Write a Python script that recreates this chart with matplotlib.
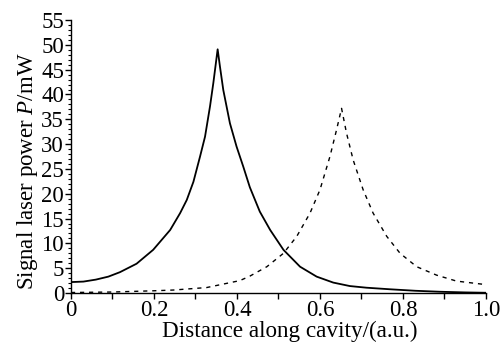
import matplotlib
matplotlib.use("Agg")
import matplotlib.pyplot as plt
from matplotlib.ticker import MultipleLocator

plt.rcParams['font.family'] = ['Liberation Serif', 'DejaVu Serif']
plt.rcParams['mathtext.fontset'] = 'custom'
plt.rcParams['mathtext.it'] = 'Liberation Serif:italic'
plt.rcParams['mathtext.rm'] = 'Liberation Serif'

# Solid curve
x_solid = [0.0, 0.03, 0.06, 0.09, 0.118, 0.158, 0.198, 0.239, 0.263, 0.279, 0.295, 0.311, 0.323, 0.335, 0.343, 0.3534,
           0.359, 0.367, 0.383, 0.399, 0.415, 0.431, 0.455, 0.480, 0.512, 0.552, 0.592, 0.632, 0.672, 0.712, 0.769,
           0.83, 0.89, 0.95, 1.0]
y_solid = [2.2, 2.3, 2.7, 3.3, 4.2, 5.9, 8.7, 12.7, 16.1, 18.75, 22.4, 27.5, 31.5, 37.6, 42.3, 49.1,
           45.6, 40.9, 34.2, 29.5, 25.5, 21.3, 16.4, 12.7, 8.7, 5.3, 3.3, 2.1, 1.4, 1.07, 0.75,
           0.45, 0.25, 0.12, 0.05]

# Dashed curve
x_dash = [0.0, 0.1, 0.2, 0.247, 0.327, 0.407, 0.431, 0.472, 0.512, 0.544, 0.576, 0.600, 0.624, 0.640, 0.652,
          0.664, 0.680, 0.704, 0.728, 0.761, 0.793, 0.833, 0.881, 0.929, 0.994, 1.0]
y_dash = [0.1, 0.2, 0.45, 0.6, 1.1, 2.5, 3.4, 5.3, 8.0, 11.4, 16.1, 20.8, 27.5, 32.9, 37.2,
          32.2, 26.8, 20.8, 16.1, 11.4, 8.0, 5.3, 3.6, 2.4, 1.75, 1.7]

x_ticks = [0, 0.2, 0.4, 0.6, 0.8, 1.0]
x_ticklabels = ["0", "0.2", "0.4", "0.6", "0.8", "1.0"]
y_ticks = list(range(0, 56, 5))

fig = plt.figure(figsize=(5.01, 3.45), dpi=100)
ax = fig.add_axes([0.1417, 0.1507, 0.8283, 0.7913])

ax.plot(x_solid, y_solid, color='black', lw=1.3)
ax.plot(x_dash, y_dash, color='black', lw=1.0, linestyle=(0, (3, 3.5)))

ax.set_xlim(0, 1.0)
ax.set_ylim(0, 55)
ax.set_xticks(x_ticks)
ax.set_xticklabels(x_ticklabels)
ax.set_yticks(y_ticks)
ax.xaxis.set_minor_locator(MultipleLocator(0.1))
ax.yaxis.set_minor_locator(MultipleLocator(1))

for s in ['top', 'right']:
    ax.spines[s].set_visible(False)
for s in ['left', 'bottom']:
    ax.spines[s].set_linewidth(1.0)

ax.tick_params(axis='both', which='major', direction='out', length=4, width=1.0, labelsize=16.5, pad=1)
ax.tick_params(axis='x', which='minor', direction='out', length=4, width=1.0)
ax.tick_params(axis='y', which='minor', direction='out', length=2.5, width=0.8)

ax.set_xlabel("Distance along cavity/(a.u.)", fontsize=16.7, labelpad=0)
ax.set_ylabel("Signal laser power $P$/mW", fontsize=16.5, labelpad=1)
ax.xaxis.label.set_x(0.528)
ax.yaxis.label.set_y(0.445)

fig.savefig("out.png", dpi=100)
